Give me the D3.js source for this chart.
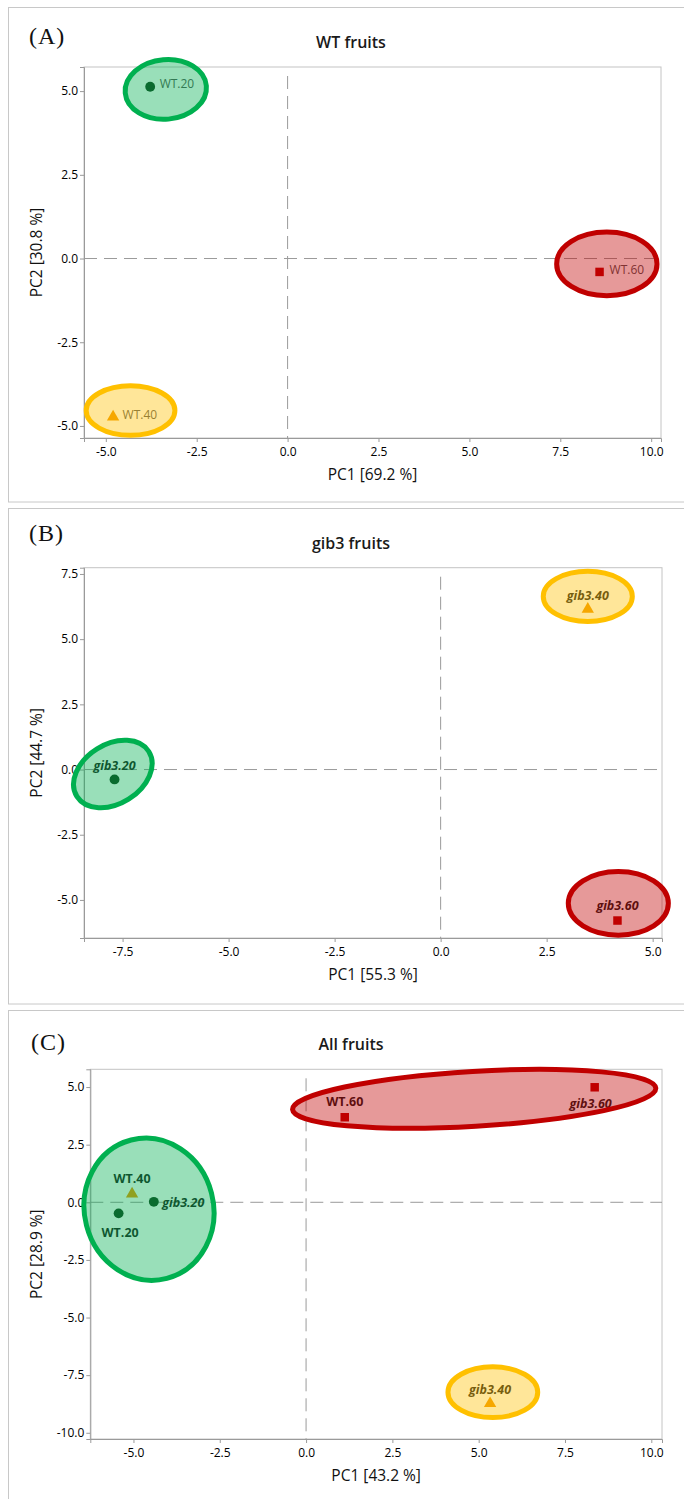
<!DOCTYPE html>
<html><head><meta charset="utf-8">
<script src="https://cdn.jsdelivr.net/npm/d3@7"></script>
<style>body{margin:0;background:#fff} svg{display:block}</style>
</head><body>
<svg id="chart" width="684" height="1499"></svg>
<script>
// ---------------- DATA ----------------
const panelLetters = ["(A)", "(B)", "(C)"];
const panelTitles = ["WT fruits", "gib3 fruits", "All fruits"];
const pc1Titles = ["PC1 [69.2 %]", "PC1 [55.3 %]", "PC1 [43.2 %]"];
const pc2Titles = ["PC2 [30.8 %]", "PC2 [44.7 %]", "PC2 [28.9 %]"];

const xTicksA = [-5, -2.5, 0, 2.5, 5, 7.5, 10];
const yTicksA = [-5, -2.5, 0, 2.5, 5];
const xTicksB = [-7.5, -5, -2.5, 0, 2.5, 5];
const yTicksB = [-5, -2.5, 0, 2.5, 5, 7.5];
const xTicksC = [-5, -2.5, 0, 2.5, 5, 7.5, 10];
const yTicksC = [-10, -7.5, -5, -2.5, 0, 2.5, 5];

const xDomainA = [-5.6, 10.27], yDomainA = [-5.36, 5.72];
const xDomainB = [-8.41, 5.22], yDomainB = [-6.46, 7.74];
const xDomainC = [-6.25, 10.31], yDomainC = [-10.27, 5.77];

// samples (scores)
const samplesA = ["WT.20", "WT.40", "WT.60"];
const stageA = ["20", "40", "60"];
const pc1A = [-3.78, -4.80, 8.58];
const pc2A = [5.13, -4.73, -0.40];

const samplesB = ["gib3.20", "gib3.40", "gib3.60"];
const stageB = ["20", "40", "60"];
const pc1B = [-7.69, 3.47, 4.17];
const pc2B = [-0.38, 6.15, -5.79];

const samplesC = ["WT.20", "WT.40", "WT.60", "gib3.20", "gib3.40", "gib3.60"];
const stageC = ["20", "40", "60", "20", "40", "60"];
const pc1C = [-5.43, -5.04, 1.12, -4.41, 5.33, 8.36];
const pc2C = [-0.48, 0.36, 3.69, 0.02, -8.73, 4.99];

// group ellipses (centre, semi-axes in PC units, tilt in degrees)
const ellGroupA = ["20", "40", "60"];
const ellCxA = [-3.35, -4.32, 8.78];
const ellCyA = [5.05, -4.54, -0.16];
const ellRxA = [1.12, 1.22, 1.38];
const ellRyA = [0.89, 0.74, 0.95];
const ellRotA = [5, 0, 0];

const ellGroupB = ["20", "40", "60"];
const ellCxB = [-7.73, 3.47, 4.19];
const ellCyB = [-0.17, 6.64, -5.13];
const ellRxB = [1.00, 1.05, 1.18];
const ellRyB = [1.14, 0.96, 1.22];
const ellRotB = [32, 0, 0];

const ellGroupC = ["20", "60", "40"];
const ellCxC = [-4.55, 4.87, 5.41];
const ellCyC = [-0.30, 4.49, -8.24];
const ellRxC = [1.87, 5.27, 1.30];
const ellRyC = [3.10, 1.19, 1.10];
const ellRotC = [14.5, 3.37, 0];

// ---------------- STYLE / LAYOUT ----------------
const FONT = "'Open Sans', 'Noto Sans', sans-serif";
const groupColor = {"20": "#00b050", "40": "#ffc000", "60": "#c00000"};
const markerColor = {"20": "#123e19", "40": "#f09600", "60": "#c00000"};
const markerShape = {"20": d3.symbolCircle, "40": d3.symbolTriangle, "60": d3.symbolSquare};
const markerSize = {"20": 76, "40": 66, "60": 72};

const panels = [
  {box: [8.5, 7.5, 502], plot: [84, 67, 661, 438], letterPos: [29, 44], titleY: 48,
   xTicks: xTicksA, yTicks: yTicksA, xDom: xDomainA, yDom: yDomainA,
   samples: samplesA, stage: stageA, pc1: pc1A, pc2: pc2A,
   eg: ellGroupA, ecx: ellCxA, ecy: ellCyA, erx: ellRxA, ery: ellRyA, erot: ellRotA,
   labelStyle: "plain",
   place: [[9.5, -2.5, "start"], [9.5, -2, "start"], [10, -2, "start"]]},
  {box: [8.5, 508.5, 1004], plot: [84, 567.7, 662, 938], letterPos: [29, 541], titleY: 549,
   xTicks: xTicksB, yTicks: yTicksB, xDom: xDomainB, yDom: yDomainB,
   samples: samplesB, stage: stageB, pc1: pc1B, pc2: pc2B,
   eg: ellGroupB, ecx: ellCxB, ecy: ellCyB, erx: ellRxB, ery: ellRyB, erot: ellRotB,
   labelStyle: "bold",
   place: [[0, -14, "middle"], [0, -14, "middle"], [0, -14.5, "middle"]]},
  {box: [8.5, 1010.5, 1520], plot: [90.3, 1069.3, 662, 1439], letterPos: [31, 1050], titleY: 1050,
   xTicks: xTicksC, yTicks: yTicksC, xDom: xDomainC, yDom: yDomainC,
   samples: samplesC, stage: stageC, pc1: pc1C, pc2: pc2C,
   eg: ellGroupC, ecx: ellCxC, ecy: ellCyC, erx: ellRxC, ery: ellRyC, erot: ellRotC,
   labelStyle: "bold",
   place: [[1.5, 19, "middle"], [0, -15, "middle"], [0, -16, "middle"], [8.4, 1, "start"], [0, -14, "middle"], [-4, 16.5, "middle"]]}
];

const svg = d3.select("#chart");
const fmtBase = d3.format(".1f");
const fmt = v => fmtBase(v).replace("\u2212", "-");

panels.forEach((p, i) => {
  const g = svg.append("g");
  // panel border
  g.append("rect").attr("x", p.box[0]).attr("y", p.box[1])
    .attr("width", 700).attr("height", p.box[2] - p.box[1])
    .attr("fill", "none").attr("stroke", "#c8c8c8").attr("stroke-width", 1);

  const [L, T, R, B] = p.plot;
  const xs = d3.scaleLinear().domain(p.xDom).range([L, R]);
  const ys = d3.scaleLinear().domain(p.yDom).range([B, T]);

  // letter & title
  g.append("text").attr("x", p.letterPos[0]).attr("y", p.letterPos[1])
    .attr("font-family", "'Liberation Serif', 'Times New Roman', serif")
    .attr("font-size", 24).attr("letter-spacing", 1).attr("fill", "#111").text(panelLetters[i]);
  g.append("text").attr("x", 351).attr("y", p.titleY).attr("text-anchor", "middle")
    .attr("font-family", FONT).attr("font-size", 16).attr("font-weight", 600)
    .attr("fill", "#1a1a1a").text(panelTitles[i]);

  // plot frame
  g.append("rect").attr("x", L).attr("y", T).attr("width", R - L).attr("height", B - T)
    .attr("fill", "none").attr("stroke", "#c4c4c4").attr("stroke-width", 1);

  // axes
  const xAxis = g.append("g").attr("transform", `translate(0,${B})`)
    .call(d3.axisBottom(xs).tickValues(p.xTicks).tickFormat(fmt).tickSize(4).tickPadding(5));
  const yAxis = g.append("g").attr("transform", `translate(${L},0)`)
    .call(d3.axisLeft(ys).tickValues(p.yTicks).tickFormat(fmt).tickSize(4).tickPadding(2));
  [xAxis, yAxis].forEach(ax => {
    ax.select(".domain").attr("stroke", "#9a9a9a");
    ax.selectAll(".tick line").attr("stroke", "#9a9a9a");
    ax.selectAll(".tick text").attr("font-family", FONT).attr("font-size", 12)
      .attr("fill", "#000");
  });

  // axis titles
  g.append("text").attr("x", (L + R) / 2).attr("y", B + 41.5).attr("text-anchor", "middle")
    .attr("font-family", FONT).attr("font-size", 15.5).attr("fill", "#111").text(pc1Titles[i]);
  g.append("text").attr("transform", `translate(42,${(T + B) / 2}) rotate(-90)`)
    .attr("text-anchor", "middle")
    .attr("font-family", FONT).attr("font-size", 15.5).attr("fill", "#111").text(pc2Titles[i]);

  // reference dashed lines
  g.append("line").attr("x1", xs(0)).attr("x2", xs(0)).attr("y1", T + 9).attr("y2", B)
    .attr("stroke", "#9a9a9a").attr("stroke-dasharray", "13,7").attr("stroke-width", 1);
  g.append("line").attr("x1", L).attr("x2", R).attr("y1", ys(0)).attr("y2", ys(0))
    .attr("stroke", "#9a9a9a").attr("stroke-dasharray", "13,7").attr("stroke-width", 1);

  // points
  const idx = d3.range(p.samples.length);
  g.selectAll("path.pt").data(idx).join("path").attr("class", "pt")
    .attr("transform", k => `translate(${xs(p.pc1[k])},${ys(p.pc2[k])})`)
    .attr("d", k => d3.symbol().type(markerShape[p.stage[k]]).size(markerSize[p.stage[k]])())
    .attr("fill", k => markerColor[p.stage[k]]);

  // labels
  g.selectAll("text.lbl").data(idx).join("text").attr("class", "lbl")
    .attr("x", k => xs(p.pc1[k]) + p.place[k][0])
    .attr("y", k => ys(p.pc2[k]) + p.place[k][1])
    .attr("dy", "0.35em")
    .attr("text-anchor", k => p.place[k][2])
    .attr("font-family", FONT)
    .attr("font-size", p.labelStyle === "plain" ? 12 : 12.5)
    .attr("font-weight", p.labelStyle === "plain" ? 400 : 700)
    .attr("font-style", k => p.samples[k].startsWith("gib") ? "italic" : "normal")
    .attr("fill", p.labelStyle === "plain" ? "#555" : "#1a1a1a")
    .text(k => p.samples[k]);

  // ellipses (translucent, drawn on top)
  const eidx = d3.range(p.eg.length);
  g.selectAll("ellipse.grp").data(eidx).join("ellipse").attr("class", "grp")
    .each(function (k) {
      const cx = xs(p.ecx[k]), cy = ys(p.ecy[k]);
      const rx = Math.abs(xs(p.ecx[k] + p.erx[k]) - cx);
      const ry = Math.abs(ys(p.ecy[k] + p.ery[k]) - cy);
      d3.select(this).attr("cx", cx).attr("cy", cy).attr("rx", rx).attr("ry", ry)
        .attr("transform", `rotate(${-p.erot[k]},${cx},${cy})`);
    })
    .attr("fill", k => groupColor[p.eg[k]]).attr("fill-opacity", 0.4)
    .attr("stroke", k => groupColor[p.eg[k]]).attr("stroke-width", 5);
});
</script>
</body></html>
